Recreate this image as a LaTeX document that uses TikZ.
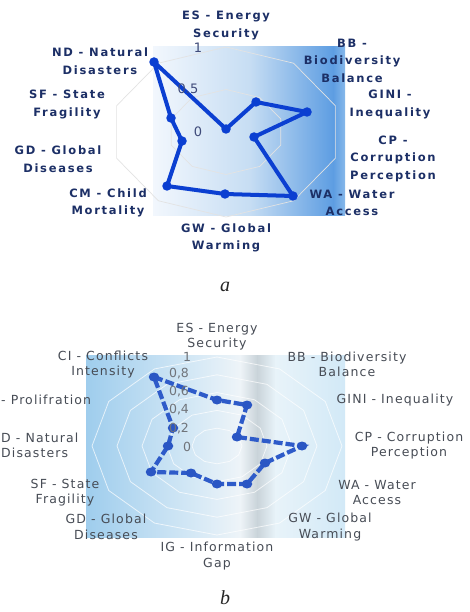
\documentclass[tikz,border=0pt]{standalone}
\usepackage{fontspec}
\newfontfamily\topfont[LetterSpace=15]{DejaVu Sans}
\newfontfamily\botfont[LetterSpace=9]{DejaVu Sans}
\newfontfamily\numfont{DejaVu Sans}
\newfontfamily\capfont{Liberation Serif}
\definecolor{navy}{HTML}{1C2F66}
\definecolor{greytxt}{HTML}{474C55}
\definecolor{numtop}{HTML}{3F4B7A}
\definecolor{numbot}{HTML}{70747A}
\definecolor{tline}{HTML}{0B3FD1}
\definecolor{bline}{HTML}{2E5BC9}
\definecolor{bmark}{HTML}{2A56C4}
\definecolor{ta}{HTML}{F2F7FD}
\definecolor{tb}{HTML}{C6DDF3}
\definecolor{tc}{HTML}{5D9DE2}
\definecolor{td}{HTML}{86B8EA}
\definecolor{ba}{HTML}{9FCDED}
\definecolor{bb}{HTML}{D8EAF6}
\definecolor{bc}{HTML}{EEF4F8}
\definecolor{bd}{HTML}{C9D3D9}
\definecolor{be}{HTML}{E8F3F9}
\definecolor{bf}{HTML}{D2E9F7}
\tikzset{
  toplab/.style={font=\topfont\bfseries\fontsize{11.5}{17.5}\selectfont, text=navy, align=center, inner sep=0pt},
  botlab/.style={font=\botfont\fontsize{12.5}{15.5}\selectfont, text=greytxt, align=center, inner sep=0pt},
  numt/.style={font=\numfont\fontsize{13}{14}\selectfont, text=numtop, inner sep=0pt},
  numb/.style={font=\numfont\fontsize{12.5}{14}\selectfont, text=numbot, inner sep=0pt},
  tmark/.style={circle, fill=tline, minimum size=9.5pt, inner sep=0pt},
  bmk/.style={ellipse, fill=bmark, minimum width=10.5pt, minimum height=9pt, inner sep=0pt},
  tconn/.style={draw=tline, line width=4pt},
  bconn/.style={draw=bline, line width=4.2pt, dash pattern=on 9pt off 3pt},
  gridt/.style={draw=gray!22, line width=0.7pt},
  gridb/.style={draw=white, line width=0.8pt, opacity=0.7},
  caption/.style={font=\capfont\itshape\fontsize{20}{22}\selectfont, text=black!85, inner sep=0pt}
}
\usetikzlibrary{shapes.geometric}
\begin{document}
\begin{tikzpicture}[x=1pt,y=-1pt]
\useasboundingbox (0,0) rectangle (470,612);
\fill[white] (0,0) rectangle (470,612);
% ---------- top chart background ----------
\fill[left color=ta, right color=tb] (153,47) rectangle (250.5,215);
\fill[left color=tb, right color=tc] (250,47) rectangle (333.5,215);
\fill[left color=tc, right color=td] (333,47) rectangle (345,215);
\begin{scope}[shift={(226,132)}, x=115pt, y=-85pt]
  \foreach \r in {0.5,1}{
    \draw[gridt] (90:\r) \foreach \i in {1,...,9}{ -- ({90-36*\i}:\r)} -- cycle;
  }
\end{scope}
% ---------- top chart data ----------
\coordinate (tES) at (226,129);
\coordinate (tBB) at (256,102);
\coordinate (tGI) at (307,112);
\coordinate (tCP) at (254,137);
\coordinate (tWA) at (293,196);
\coordinate (tGW) at (225,194);
\coordinate (tCM) at (167,186);
\coordinate (tGD) at (182,141);
\coordinate (tSF) at (171,118);
\coordinate (tND) at (154,62);
\draw[tconn, line join=round] (tES) -- (tBB) -- (tGI) -- (tCP) -- (tWA) -- (tGW) -- (tCM) -- (tGD) -- (tSF) -- (tND) -- cycle;
\foreach \p in {tES,tBB,tGI,tCP,tWA,tGW,tCM,tGD,tSF,tND}{ \node[tmark] (m\p) at (\p) {}; }
% axis numbers
\node[numt] (tn1) at (198,48) {1};
\node[numt] (tn05) at (188,89) {0.5};
\node[numt] (tn0) at (198,132) {0};
% labels
\node[toplab] (lES) at (226,25.5) {ES - Energy\\Security};
\node[toplab] (lBB) at (352,60.5) {BB -\\Biodiversity\\Balance};
\node[toplab] (lGI) at (390,104.5) {GINI -\\Inequality};
\node[toplab] (lCP) at (393,158.5) {CP -\\Corruption\\Perception};
\node[toplab] (lWA) at (352,203) {WA - Water\\Access};
\node[toplab] (lGW) at (226,238) {GW - Global\\Warming};
\node[toplab] (lCM) at (108,203) {CM - Child\\Mortality};
\node[toplab] (lGD) at (58,159) {GD - Global\\Diseases};
\node[toplab] (lSF) at (67,104.5) {SF - State\\Fragility};
\node[toplab] (lND) at (100,61) {ND - Natural\\Disasters};
\node[caption] (capa) at (225,287) {a};
% ---------- bottom chart background ----------
\fill[left color=ba, right color=bb] (86,355) rectangle (200.5,537);
\fill[left color=bb, right color=bc] (200,355) rectangle (240.5,537);
\fill[left color=bc, right color=bd] (240,355) rectangle (257.5,537);
\fill[left color=bd, right color=be] (257,355) rectangle (275.5,537);
\fill[left color=be, right color=bf] (275,355) rectangle (345,537);
\begin{scope}[shift={(217,446)}, x=125pt, y=-89pt]
  \foreach \r in {0.2,0.4,0.6,0.8,1}{
    \draw[gridb] (90:\r) \foreach \i in {1,...,11}{ -- ({90-30*\i}:\r)} -- cycle;
  }
\end{scope}
% ---------- bottom chart data ----------
\coordinate (bCI) at (154,377);
\coordinate (bES) at (217,400);
\coordinate (bBB) at (247,405);
\coordinate (bGI) at (237,437);
\coordinate (bCP) at (302,446);
\coordinate (bWA) at (265,463);
\coordinate (bGW) at (247,484);
\coordinate (bIG) at (217,484);
\coordinate (bGD) at (191,473);
\coordinate (bSF) at (151,472);
\coordinate (bND) at (168,446);
\coordinate (bNP) at (173,428);
\draw[bconn] (bCI) -- (bES) -- (bBB) -- (bGI) -- (bCP) -- (bWA) -- (bGW) -- (bIG) -- (bGD) -- (bSF) -- (bND) -- (bNP) -- cycle;
\foreach \p in {bCI,bES,bBB,bGI,bCP,bWA,bGW,bIG,bGD,bSF,bND,bNP}{ \node[bmk] (m\p) at (\p) {}; }
% axis numbers
\node[numb] (bn1) at (187,357) {1};
\node[numb] (bn08) at (179,374) {0,8};
\node[numb] (bn06) at (179,392) {0,6};
\node[numb] (bn04) at (179,410) {0,4};
\node[numb] (bn02) at (179,429) {0,2};
\node[numb] (bn0) at (187,447) {0};
% labels
\node[botlab] (kES) at (217,336.5) {ES - Energy\\Security};
\node[botlab] (kBB) at (347,364.5) {BB - Biodiversity\\Balance};
\node[botlab] (kGI) at (395,400) {GINI - Inequality};
\node[botlab] (kCP) at (409,445.5) {CP - Corruption\\Perception};
\node[botlab] (kWA) at (377,492.5) {WA - Water\\Access};
\node[botlab] (kGW) at (330,527) {GW - Global\\Warming};
\node[botlab] (kIG) at (217,556) {IG - Information\\Gap};
\node[botlab] (kGD) at (106,527) {GD - Global\\Diseases};
\node[botlab] (kSF) at (65,492.5) {SF - State\\Fragility};
\node[botlab, align=left, anchor=west] (kND) at (1,445.5) {D - Natural\\Disasters};
\node[botlab, anchor=west] (kNP) at (1,400) {- Prolifration};
\node[botlab] (kCI) at (103,364.5) {CI - Conflicts\\Intensity};
\node[caption] (capb) at (225,598) {b};
\end{tikzpicture}
\end{document}
